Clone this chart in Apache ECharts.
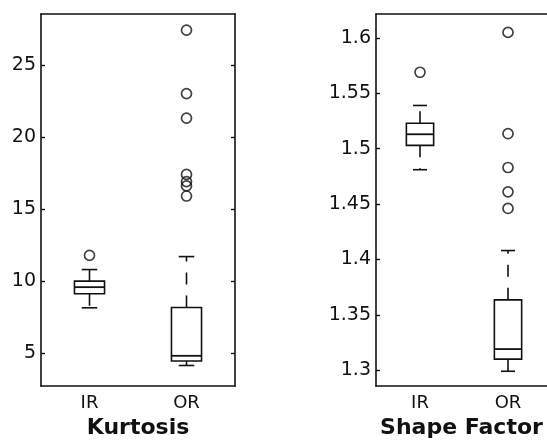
<!DOCTYPE html>
<html>
<head>
<meta charset="utf-8">
<script src="https://cdn.jsdelivr.net/npm/echarts@6/dist/echarts.min.js"></script>
<style>html,body{margin:0;padding:0;background:#fff}#c{width:547px;height:444px}</style>
</head>
<body>
<div id="c"></div>
<script>
const categories = ['IR', 'OR'];
// [lowerWhisker, q1, median, q3, upperWhisker]
const kurtosisIR = [8.15, 9.12, 9.58, 10.0, 10.8];
const kurtosisOR = [4.15, 4.46, 4.82, 8.17, 11.7];
const kurtosisOutliersIR = [11.78];
const kurtosisOutliersOR = [27.4, 23.0, 21.3, 17.4, 16.9, 16.6, 15.9];
const shapeIR = [1.481, 1.503, 1.513, 1.523, 1.539];
const shapeOR = [1.299, 1.310, 1.319, 1.3635, 1.408];
const shapeOutliersIR = [1.569];
const shapeOutliersOR = [1.605, 1.5135, 1.483, 1.461, 1.446];
const kurtosisTicks = [5, 10, 15, 20, 25];
const shapeTicks = [1.3, 1.35, 1.4, 1.45, 1.5, 1.55, 1.6];

const chart = echarts.init(document.getElementById('c'));
const font = 'DejaVu Sans';
const ink = '#111';

function boxData(a, b) {
  return [[0].concat(a), [1].concat(b)];
}
function outlierData(a, b) {
  return a.map(v => [0, v]).concat(b.map(v => [1, v]));
}
function renderBox(params, api) {
  const x = api.value(0);
  const lo = api.coord([x, api.value(1)]);
  const q1 = api.coord([x, api.value(2)]);
  const md = api.coord([x, api.value(3)]);
  const q3 = api.coord([x, api.value(4)]);
  const hi = api.coord([x, api.value(5)]);
  const unit = api.size([1, 0])[0];
  const w = unit * 0.31;
  const cw = unit * 0.16;
  const cx = lo[0];
  const st = {stroke: ink, lineWidth: 1.6, fill: null};
  const dash = {stroke: ink, lineWidth: 1.6, lineDash: [12, 11]};
  return {
    type: 'group',
    children: [
      {type: 'line', shape: {x1: cx, y1: q3[1], x2: cx, y2: hi[1]}, style: dash},
      {type: 'line', shape: {x1: cx, y1: q1[1], x2: cx, y2: lo[1]}, style: dash},
      {type: 'line', shape: {x1: cx - cw / 2, y1: hi[1], x2: cx + cw / 2, y2: hi[1]}, style: st},
      {type: 'line', shape: {x1: cx - cw / 2, y1: lo[1], x2: cx + cw / 2, y2: lo[1]}, style: st},
      {type: 'rect', shape: {x: cx - w / 2, y: q3[1], width: w, height: q1[1] - q3[1]}, style: {stroke: ink, lineWidth: 1.6, fill: '#fff'}},
      {type: 'line', shape: {x1: cx - w / 2, y1: md[1], x2: cx + w / 2, y2: md[1]}, style: {stroke: ink, lineWidth: 1.8}}
    ]
  };
}

const lineSt = {color: ink, width: 1.6};
function xAxis(gi, name, max) {
  return {
    type: 'value', gridIndex: gi, min: -0.5, max: max, position: 'bottom',
    splitLine: {show: false},
    axisLine: {show: true, onZero: false, lineStyle: lineSt}, axisTick: {show: false},
    axisLabel: {color: ink, fontFamily: font, fontSize: 18, margin: 8, customValues: [0, 1],
      formatter: v => categories[Math.round(v)]},
    name: name, nameLocation: 'middle', nameGap: 26,
    nameTextStyle: {color: ink, fontFamily: font, fontSize: 22, fontWeight: 'bold'}
  };
}
function xTop(gi, max) {
  return {
    type: 'value', gridIndex: gi, min: -0.5, max: max, position: 'top',
    splitLine: {show: false}, axisLine: {show: true, onZero: false, lineStyle: lineSt},
    axisTick: {show: false}, axisLabel: {show: false}
  };
}
function yAxis(gi, min, max, ticks, pos, labels) {
  return {
    type: 'value', gridIndex: gi, min: min, max: max, position: pos,
    splitLine: {show: false}, axisLine: {show: true, onZero: false, lineStyle: lineSt},
    axisTick: {show: true, inside: true, length: 4, lineStyle: {color: ink, width: 1.4}, customValues: ticks},
    axisLabel: {show: labels, color: ink, fontFamily: font, fontSize: 19, margin: 5, customValues: ticks,
      formatter: v => String(+v.toFixed(2))}
  };
}

chart.setOption({
  animation: false,
  backgroundColor: '#fff',
  grid: [
    {left: 41, top: 14, width: 194, bottom: 56},
    {left: 376, top: 14, right: 0, bottom: 56}
  ],
  xAxis: [xAxis(0, 'Kurtosis', 1.5), xAxis(1, 'Shape Factor', 1.443), xTop(0, 1.5), xTop(1, 1.443)],
  yAxis: [
    yAxis(0, 2.72, 28.52, kurtosisTicks, 'left', true),
    yAxis(0, 2.72, 28.52, kurtosisTicks, 'right', false),
    yAxis(1, 1.2856, 1.6216, shapeTicks, 'left', true)
  ],
  series: [
    {type: 'custom', xAxisIndex: 0, yAxisIndex: 0, renderItem: renderBox,
      encode: {x: 0, y: [1, 2, 3, 4, 5]}, data: boxData(kurtosisIR, kurtosisOR)},
    {type: 'scatter', xAxisIndex: 0, yAxisIndex: 0, symbol: 'circle', symbolSize: 10,
      itemStyle: {color: 'rgba(255,255,255,0)', borderColor: ink, borderWidth: 1.7},
      data: outlierData(kurtosisOutliersIR, kurtosisOutliersOR)},
    {type: 'custom', xAxisIndex: 1, yAxisIndex: 2, renderItem: renderBox,
      encode: {x: 0, y: [1, 2, 3, 4, 5]}, data: boxData(shapeIR, shapeOR)},
    {type: 'scatter', xAxisIndex: 1, yAxisIndex: 2, symbol: 'circle', symbolSize: 10,
      itemStyle: {color: 'rgba(255,255,255,0)', borderColor: ink, borderWidth: 1.7},
      data: outlierData(shapeOutliersIR, shapeOutliersOR)}
  ]
});
</script>
</body>
</html>
